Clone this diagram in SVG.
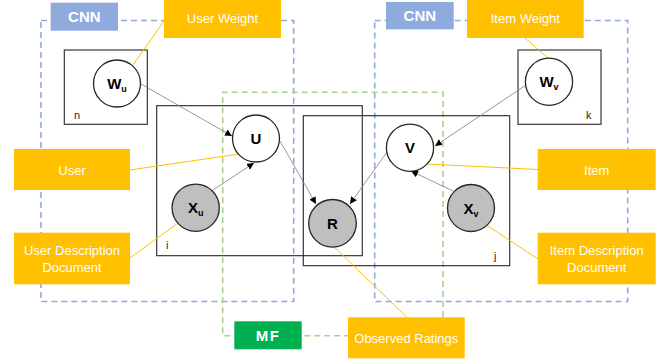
<svg xmlns="http://www.w3.org/2000/svg" width="667" height="360" viewBox="0 0 667 360">
  <style>
    .cnn { fill: none; stroke: #8faadc; stroke-width: 1.6; stroke-dasharray: 6 4; }
    .mf { fill: none; stroke: #a9d18e; stroke-width: 1.6; stroke-dasharray: 6 4; }
    .plate { fill: none; stroke: #262626; stroke-width: 1.1; }
    .node { fill: #ffffff; stroke: #262626; stroke-width: 1.3; }
    .obs { fill: #bfbfbf; stroke: #262626; stroke-width: 1.3; }
    .tag { fill: #ffc000; }
    .tagb { fill: #8faadc; }
    .tagg { fill: #00b050; }
    .lbl { font-family: "Liberation Sans", Arial, sans-serif; font-size: 13px; fill: #ffffff; text-anchor: middle; }
    .big { font-family: "Liberation Sans", Arial, sans-serif; font-size: 15px; font-weight: bold; fill: #ffffff; text-anchor: middle; }
    .var { font-family: "Liberation Sans", Arial, sans-serif; font-size: 15px; font-weight: bold; fill: #000000; text-anchor: middle; }
    .sub { font-size: 9px; }
    .idx { font-family: "Liberation Sans", Arial, sans-serif; font-size: 11px; fill: #262626; }
    .edge { stroke: #7f7f7f; stroke-width: 0.8; fill: none; marker-end: url(#arrow); }
    .call { stroke: #ffc000; stroke-width: 1; fill: none; }
  </style>
  <defs>
    <marker id="arrow" viewBox="0 0 10 10" refX="10" refY="5" markerWidth="7" markerHeight="7" markerUnits="userSpaceOnUse" orient="auto">
      <path d="M0,0 L10,5 L0,10 z" fill="#000000"/>
    </marker>
  </defs>

  <rect width="667" height="360" fill="#ffffff"/>

  <!-- dashed regions -->
  <g id="regions">
    <rect class="cnn" x="41" y="20.5" width="252.7" height="281"/>
    <rect class="cnn" x="374.7" y="20.5" width="253" height="281"/>
    <path class="mf" d="M443,317 V92.3 H222.7 V335.7 H348"/>
  </g>

  <!-- plates -->
  <g id="plates">
    <rect class="plate" x="64.3" y="50" width="83" height="74.3"/>
    <text class="idx" x="74" y="119">n</text>
    <rect class="plate" x="518" y="50" width="83" height="74.3"/>
    <text class="idx" x="586" y="119">k</text>
    <rect class="plate" x="156.7" y="105.7" width="205.6" height="150"/>
    <text class="idx" x="166" y="249">i</text>
    <rect class="plate" x="303.3" y="115.7" width="206.4" height="150"/>
    <text class="idx" x="494" y="260">j</text>
  </g>

  <!-- connectors -->
  <g id="connectors">
    <line class="edge" x1="141" y1="84" x2="232" y2="136"/>
    <line class="edge" x1="213" y1="190" x2="254" y2="163"/>
    <line class="edge" x1="280" y1="141" x2="316" y2="204"/>
    <line class="edge" x1="387" y1="152" x2="350" y2="204"/>
    <line class="edge" x1="526" y1="85" x2="435" y2="146"/>
    <line class="edge" x1="453" y1="191" x2="411" y2="171"/>
    <line class="call" x1="164" y1="21" x2="133" y2="65"/>
    <line class="call" x1="130" y1="170" x2="239" y2="154"/>
    <line class="call" x1="130" y1="258" x2="178" y2="223"/>
    <line class="call" x1="525" y1="38" x2="549" y2="59"/>
    <line class="call" x1="538" y1="169.5" x2="427" y2="164"/>
    <line class="call" x1="538" y1="259" x2="488" y2="226"/>
    <line class="call" x1="407" y1="317.3" x2="333" y2="246"/>
  </g>

  <!-- variables -->
  <g id="node-wu">
    <circle class="node" cx="117" cy="83.5" r="23.5"/>
    <text class="var" x="117" y="89">W<tspan class="sub" dy="3">u</tspan></text>
  </g>
  <g id="node-u">
    <circle class="node" cx="256" cy="138.5" r="23.5"/>
    <text class="var" x="256" y="144">U</text>
  </g>
  <g id="node-xu">
    <circle class="obs" cx="195.7" cy="207.7" r="23.6"/>
    <text class="var" x="195.7" y="213">X<tspan class="sub" dy="3">u</tspan></text>
  </g>
  <g id="node-r">
    <circle class="obs" cx="332.5" cy="223.3" r="23.8"/>
    <text class="var" x="332.5" y="229">R</text>
  </g>
  <g id="node-v">
    <circle class="node" cx="410" cy="147.7" r="23.6"/>
    <text class="var" x="410" y="153">V</text>
  </g>
  <g id="node-xv">
    <circle class="obs" cx="471" cy="208" r="23.5"/>
    <text class="var" x="471" y="213.5">X<tspan class="sub" dy="3">v</tspan></text>
  </g>
  <g id="node-wv">
    <circle class="node" cx="549" cy="81.7" r="23.6"/>
    <text class="var" x="549" y="87">W<tspan class="sub" dy="3">v</tspan></text>
  </g>

  <!-- labels -->
  <g id="label-cnn-user">
    <rect class="tagb" x="50.7" y="2.7" width="67.3" height="28"/>
    <text class="big" x="84.3" y="22">CNN</text>
  </g>
  <g id="label-cnn-item">
    <rect class="tagb" x="386" y="2" width="67.7" height="27.3"/>
    <text class="big" x="419.8" y="21">CNN</text>
  </g>
  <g id="label-user-weight">
    <rect class="tag" x="164" y="0" width="117" height="38"/>
    <text class="lbl" x="222.5" y="22.5">User Weight</text>
  </g>
  <g id="label-item-weight">
    <rect class="tag" x="467" y="0" width="116.7" height="38"/>
    <text class="lbl" x="525.3" y="22.5">Item Weight</text>
  </g>
  <g id="label-user">
    <rect class="tag" x="14" y="149" width="116" height="41"/>
    <text class="lbl" x="72" y="175">User</text>
  </g>
  <g id="label-item">
    <rect class="tag" x="537.7" y="149" width="118" height="41"/>
    <text class="lbl" x="596.7" y="175">Item</text>
  </g>
  <g id="label-user-doc">
    <rect class="tag" x="14" y="232.7" width="116" height="51.6"/>
    <text class="lbl" x="72" y="254.5">User Description</text>
    <text class="lbl" x="72" y="272">Document</text>
  </g>
  <g id="label-item-doc">
    <rect class="tag" x="537.7" y="232.7" width="118" height="51.6"/>
    <text class="lbl" x="596.7" y="254.5">Item Description</text>
    <text class="lbl" x="596.7" y="272">Document</text>
  </g>
  <g id="label-mf">
    <rect class="tagg" x="234.3" y="321.3" width="67.4" height="28"/>
    <text class="big" x="268" y="341" font-size="17" letter-spacing="1.5">MF</text>
  </g>
  <g id="label-observed">
    <rect class="tag" x="348" y="317.3" width="116.7" height="41"/>
    <text class="lbl" x="406.3" y="343">Observed Ratings</text>
  </g>
</svg>
